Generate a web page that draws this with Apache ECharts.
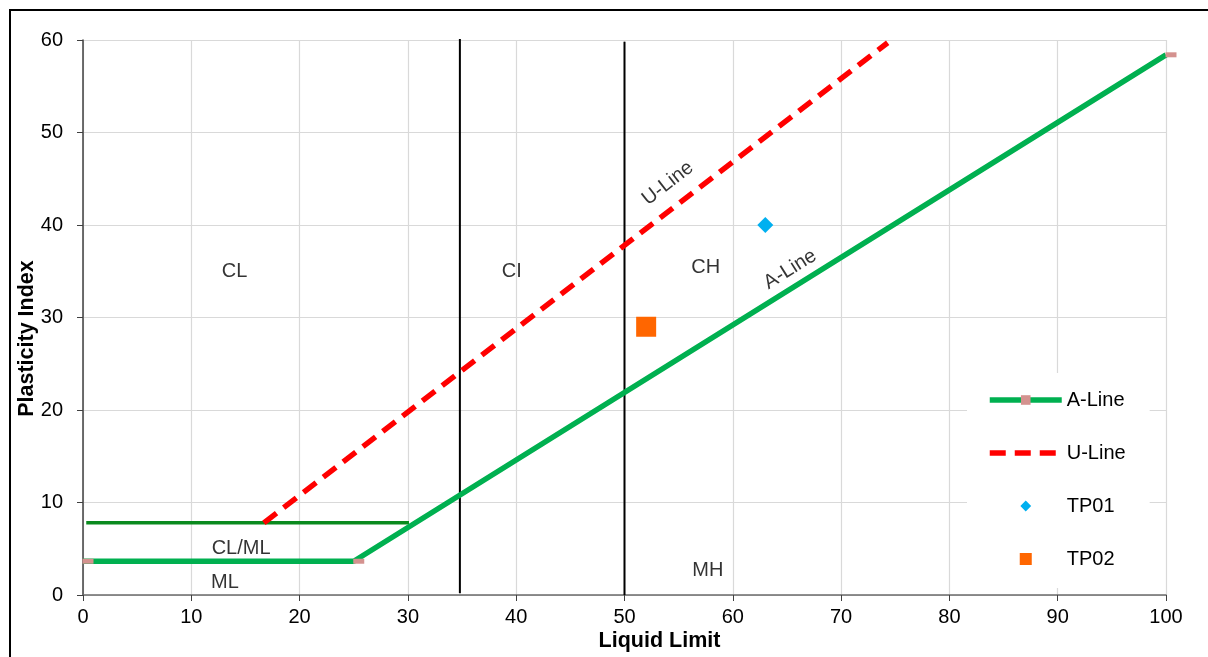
<!DOCTYPE html>
<html>
<head>
<meta charset="utf-8">
<title>Plasticity Chart</title>
<script src="https://cdn.jsdelivr.net/npm/echarts@6/dist/echarts.min.js"></script>
<style>
  html, body { margin: 0; padding: 0; background: #ffffff; }
  #chart { width: 1208px; height: 657px; }
</style>
</head>
<body>
<div id="chart"></div>
<script>
// Axis ranges (Liquid Limit on x, Plasticity Index on y)
const xRange = [0, 100];
const yRange = [0, 60];
const tickStep = 10;

// A-Line: PI = 0.73 (LL - 20), with the low horizontal limb
const aLine = [[0, 3.65], [25, 3.65], [100, 58.4]];
// Upper limit of the CL/ML band
const clmlUpper = [[0.3, 7.8], [30.1, 7.8]];
// U-Line: PI = 0.9 (LL - 8)
const uLine = [[16.7, 7.8], [74.3, 59.7]];
// Liquid-limit dividers (intermediate / high plasticity)
const divider35 = [[34.8, 0.2], [34.8, 60.1]];
const divider50 = [[50, 0], [50, 59.8]];

// Test pit samples
const tp01 = [[63, 40]];
const tp02 = [[52, 29]];

// Zone names and their anchor points (LL, PI)
const zoneNames = ['CL', 'CI', 'CH', 'CL/ML', 'ML', 'MH'];
const zoneLL = [14, 39.6, 57.5, 14.6, 13.1, 57.7];
const zonePI = [35, 35, 35.4, 5, 1.4, 2.6];

// Line captions placed along the lines
const captionNames = ['U-Line', 'A-Line'];
const captionLL = [54, 65.3];
const captionPI = [44.5, 35.2];
const captionAngle = [38, 32];

const FONT = 'Arial, "Liberation Sans", sans-serif';

const A_STYLE = { color: '#00b050', width: 5.5 };
const U_STYLE = { color: '#ff0000', width: 5.5, type: [16, 9], cap: 'butt' };

// Legend icons: the invisible corner ticks pin the icon box to 72x12 so the
// marker keeps its own proportions in the middle of the slot.
const ICON_BOX = 'M0,0 L0.01,0 M72,12 L71.99,12 ';
const ICON_DIAMOND = 'path://' + ICON_BOX + 'M36,0.6 L41.4,6 L36,11.4 L30.6,6 Z';
const ICON_SQUARE = 'path://' + ICON_BOX + 'M30,0 L42,0 L42,12 L30,12 Z';

const chart = echarts.init(document.getElementById('chart'), null, { renderer: 'canvas' });

const zoneData = zoneNames.map((n, i) => ({ name: n, value: [zoneLL[i], zonePI[i]] }));
const captionData = captionNames.map((n, i) => ({
  name: n,
  value: [captionLL[i], captionPI[i]],
  label: { rotate: captionAngle[i] }
}));

const option = {
  animation: false,
  backgroundColor: '#ffffff',
  textStyle: { fontFamily: FONT },
  grid: { left: 83, right: 42, top: 40, bottom: 60, containLabel: false },
  graphic: [{
    type: 'rect',
    shape: { x: 10, y: 10, width: 1400, height: 900 },
    style: { fill: 'none', stroke: '#000000', lineWidth: 2 },
    silent: true,
    z: 100
  }],
  legend: {
    orient: 'vertical',
    left: 967,
    top: 373,
    backgroundColor: '#ffffff',
    padding: [17, 24, 19, 20],
    itemWidth: 72,
    itemHeight: 12,
    itemGap: 33,
    textStyle: { fontSize: 20, fontFamily: FONT, color: '#000000', lineHeight: 20 },
    data: [
      { name: 'A-Line', lineStyle: A_STYLE },
      { name: 'U-Line', lineStyle: U_STYLE, itemStyle: { opacity: 0 } },
      { name: 'TP01', icon: ICON_DIAMOND, itemStyle: { color: '#00b0f0', opacity: 1 } },
      { name: 'TP02', icon: ICON_SQUARE, itemStyle: { color: '#ff6600', opacity: 1 } }
    ],
    selectedMode: false
  },
  xAxis: {
    type: 'value',
    min: xRange[0],
    max: xRange[1],
    interval: tickStep,
    name: 'Liquid Limit',
    nameLocation: 'middle',
    nameGap: 35,
    nameMoveOverlap: false,
    nameTextStyle: {
      fontSize: 21.5, fontWeight: 'bold', color: '#000000', fontFamily: FONT,
      padding: [0, 0, 0, 70]
    },
    axisLine: { lineStyle: { color: '#6b6b6b', width: 1.5 } },
    axisTick: { show: true, inside: false, length: 6, lineStyle: { color: '#404040' } },
    axisLabel: { fontSize: 20, color: '#000000', margin: 12, fontFamily: FONT },
    splitLine: { show: true, lineStyle: { color: '#d9d9d9', width: 1.2 } }
  },
  yAxis: {
    type: 'value',
    min: yRange[0],
    max: yRange[1],
    interval: tickStep,
    name: 'Plasticity Index',
    nameLocation: 'middle',
    nameGap: 45,
    nameMoveOverlap: false,
    nameRotate: 90,
    nameTextStyle: {
      fontSize: 21.5, fontWeight: 'bold', color: '#000000', fontFamily: FONT,
      padding: [0, 42, 0, 0]
    },
    axisLine: { show: true, lineStyle: { color: '#404040', width: 1.5 } },
    axisTick: { show: true, inside: false, length: 6, lineStyle: { color: '#404040' } },
    axisLabel: { fontSize: 20, color: '#000000', margin: 20, fontFamily: FONT },
    splitLine: { show: true, lineStyle: { color: '#d9d9d9', width: 1.2 } }
  },
  series: [
    {
      name: 'divider35',
      type: 'line',
      data: divider35,
      symbol: 'none',
      lineStyle: { color: '#000000', width: 2 },
      silent: true,
      z: 2
    },
    {
      name: 'divider50',
      type: 'line',
      data: divider50,
      symbol: 'none',
      lineStyle: { color: '#000000', width: 2 },
      silent: true,
      z: 2
    },
    {
      name: 'CL/ML upper',
      type: 'line',
      data: clmlUpper,
      symbol: 'none',
      lineStyle: { color: '#0a8a1e', width: 3.5 },
      silent: true,
      z: 3
    },
    {
      name: 'U-Line',
      type: 'line',
      data: uLine,
      symbol: 'none',
      color: '#ff0000',
      lineStyle: U_STYLE,
      silent: true,
      z: 4
    },
    {
      name: 'A-Line',
      type: 'line',
      data: aLine,
      color: '#00b050',
      symbol: 'rect',
      symbolSize: [11, 5],
      symbolOffset: [5, 0],
      itemStyle: { color: '#d4928f' },
      lineStyle: A_STYLE,
      silent: true,
      z: 5
    },
    {
      name: 'TP01',
      type: 'scatter',
      data: tp01,
      symbol: 'diamond',
      symbolSize: 16,
      itemStyle: { color: '#00b0f0', opacity: 1 },
      silent: true,
      z: 6
    },
    {
      name: 'TP02',
      type: 'scatter',
      data: tp02,
      symbol: 'rect',
      symbolSize: 20,
      itemStyle: { color: '#ff6600', opacity: 1 },
      silent: true,
      z: 6
    },
    {
      name: 'zones',
      type: 'scatter',
      data: zoneData,
      symbol: 'circle',
      symbolSize: 1,
      itemStyle: { color: 'transparent' },
      label: {
        show: true,
        position: 'inside',
        formatter: '{b}',
        fontSize: 20,
        color: '#000000',
        fontFamily: FONT
      },
      silent: true,
      z: 7
    },
    {
      name: 'captions',
      type: 'scatter',
      data: captionData,
      symbol: 'circle',
      symbolSize: 1,
      itemStyle: { color: 'transparent' },
      label: {
        show: true,
        position: 'inside',
        formatter: '{b}',
        fontSize: 20,
        color: '#000000',
        fontFamily: FONT
      },
      silent: true,
      z: 7
    }
  ]
};

chart.setOption(option);
</script>
</body>
</html>
